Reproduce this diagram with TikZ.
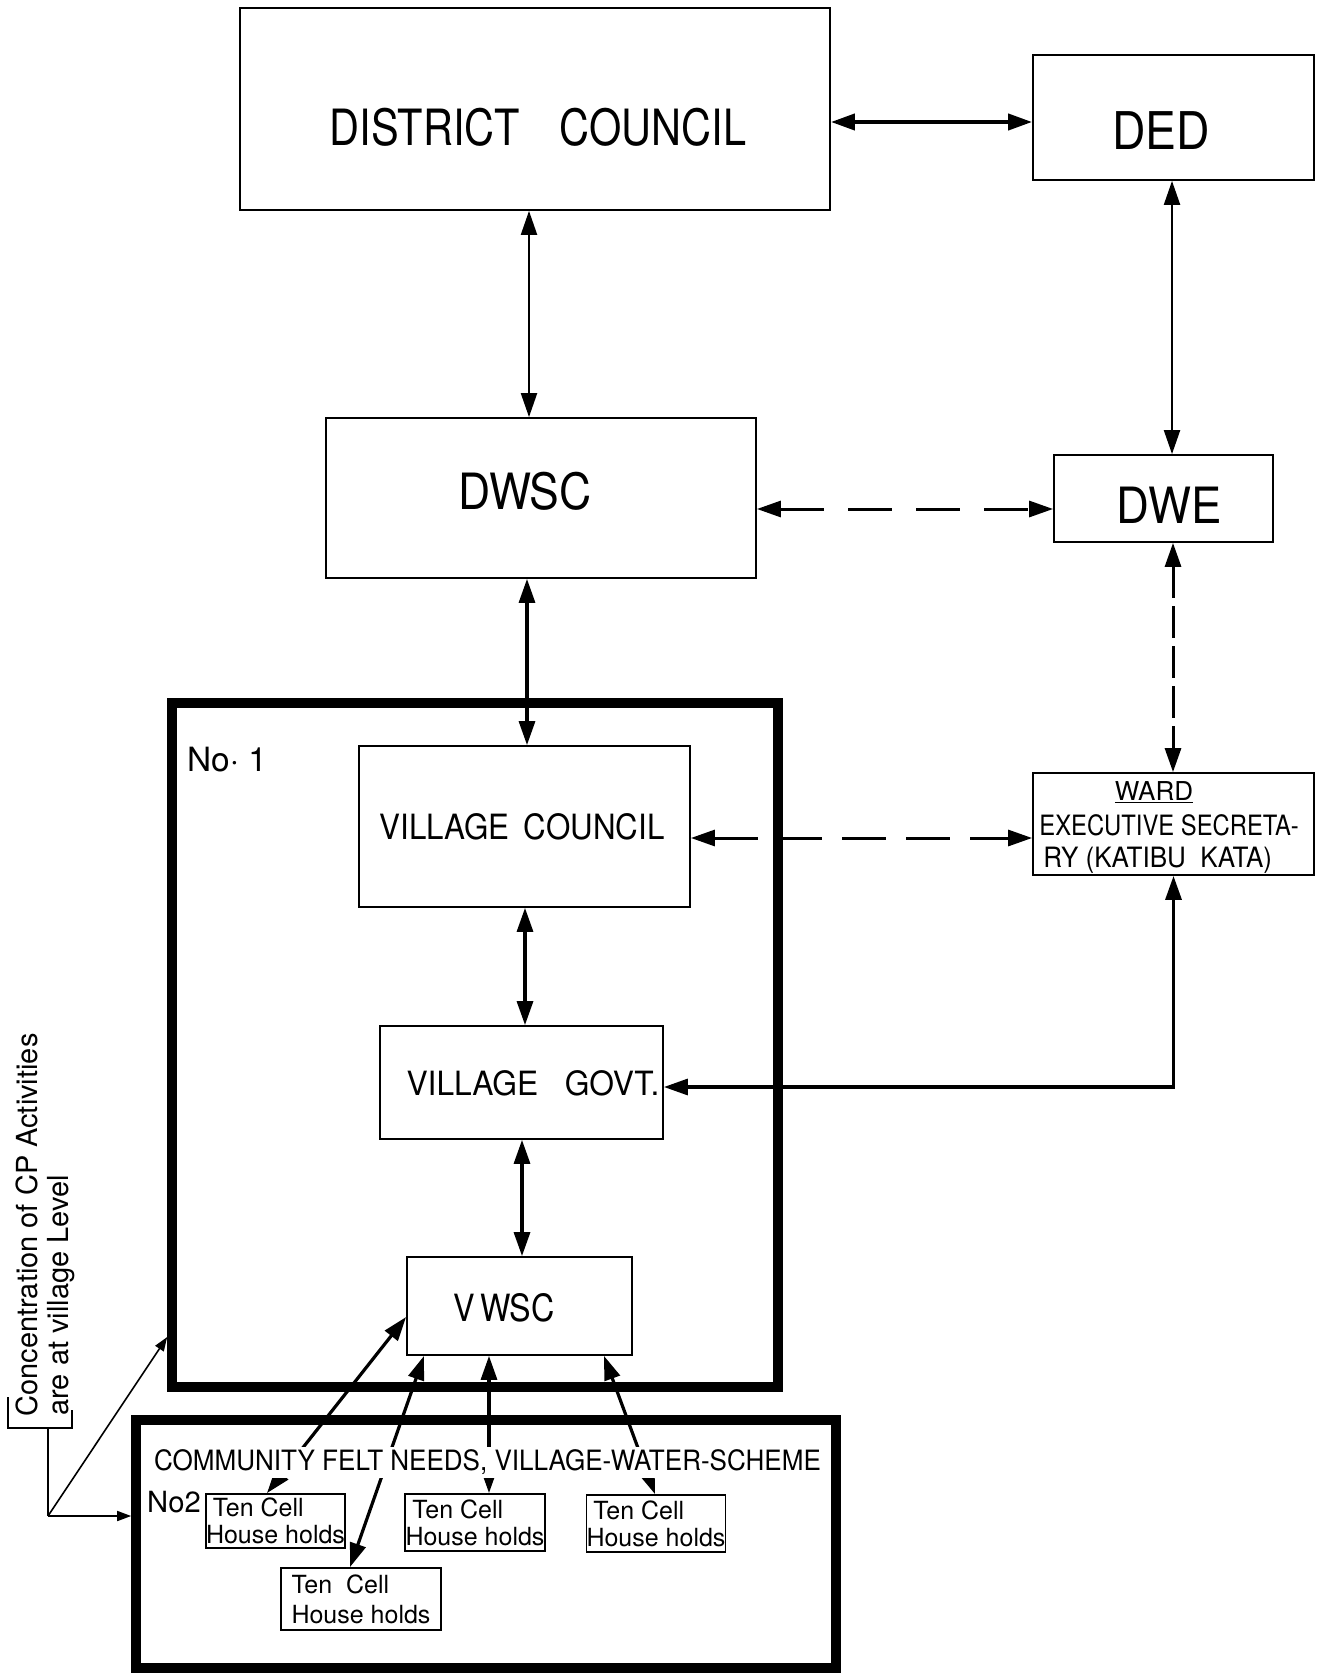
\documentclass[tikz,border=0pt]{standalone}
\usepackage{fontspec}
\usepackage{graphicx}
\setmainfont{TeX Gyre Heros}
\usetikzlibrary{arrows.meta}
\newcommand\sqz[2]{\scalebox{#1}[1]{#2}}
\newcommand\fsz[1]{\fontsize{#1}{#1}\selectfont}
\begin{document}
\begin{tikzpicture}[x=0.5pt,y=-0.5pt,
  box/.style={draw,line width=0.9pt,inner sep=0pt},
  bigbox/.style={draw,line width=4.8pt,inner sep=0pt},
  lbl/.style={inner sep=0pt},
  tcbox/.style={draw,line width=0.9pt,inner sep=0pt,align=left,font=\fontsize{12.5}{13.5}\selectfont},
  tip/.tip={Triangle[length=12pt,width=8pt]},
  stip/.tip={Triangle[length=7pt,width=5pt]},
  arr/.style={line width=1.6pt,tip-tip},
  tarr/.style={line width=1.1pt,tip-tip},
  darr/.style={line width=1.5pt,tip-tip},
  narr/.style={line width=0.8pt,-stip},
  brk/.style={line width=0.9pt}
]
\useasboundingbox (0,0) rectangle (1318,1674);

% boxes
\node[box,minimum width=295pt,minimum height=101pt] (dc) at (535,109) {};
\node[box,minimum width=140.5pt,minimum height=62.5pt] (ded) at (1173.5,117.5) {};
\node[box,minimum width=215pt,minimum height=80pt] (dwsc) at (541,498) {};
\node[box,minimum width=109.5pt,minimum height=43.5pt] (dwe) at (1163.5,498.5) {};
\node[bigbox,minimum width=303pt,minimum height=342pt] (no1) at (475,1045) {};
\node[box,minimum width=165.5pt,minimum height=80.5pt] (vc) at (524.5,826.5) {};
\node[box,minimum width=140.5pt,minimum height=51pt] (ward) at (1173.5,824) {};
\node[box,minimum width=141.5pt,minimum height=56.5pt] (vg) at (521.5,1082.5) {};
\node[box,minimum width=112.5pt,minimum height=49pt] (vwsc) at (519.5,1306) {};
\node[bigbox,minimum width=350pt,minimum height=124pt] (no2) at (486,1544) {};
\node[tcbox,minimum width=68.5pt,minimum height=27pt] (tc1) at (275.5,1521) {\ Ten Cell\\House holds};
\node[tcbox,minimum width=80pt,minimum height=31pt,font=\fontsize{12.5}{15}\selectfont] (tc2) at (361,1599) {Ten\ \ Cell\\House holds};
\node[tcbox,minimum width=70pt,minimum height=28.5pt] (tc3) at (475,1522.5) {\ Ten Cell\\House holds};
\node[tcbox,minimum width=64pt,minimum height=28.5pt] (tc4) at (656,1523.5) {\ Ten Cell\\House holds};

% texts
\node[lbl,font=\fsz{25}] (dct) at (538,127) {\sqz{0.83}{DISTRICT\hspace{24pt}COUNCIL}};
\node[lbl,font=\fsz{26}] (dedt) at (1161,131) {\sqz{0.89}{DED}};
\node[lbl,font=\fsz{25}] (dwsct) at (525,491) {\sqz{0.89}{DWSC}};
\node[lbl,font=\fsz{25}] (dwet) at (1169,505) {\sqz{0.91}{DWE}};
\node[lbl,font=\fsz{17.4}] (vct) at (522,827) {\sqz{0.9}{VILLAGE\hspace{8pt}COUNCIL}};
\node[lbl,font=\fsz{16.7}] (vgt) at (533,1083) {\sqz{0.95}{VILLAGE\hspace{14pt}GOVT.}};
\node[lbl,font=\fsz{18.75}] (vwsct) at (504,1308) {\sqz{0.86}{V\,WSC}};
\node[lbl,font=\fsz{16.7},anchor=center] (no1t) at (227,760) {No· 1};
\node[lbl,font=\fsz{13},anchor=base] (wt1) at (1154,800) {\underline{WARD}};
\node[lbl,font=\fsz{14},anchor=base west] (wt2) at (1039,835) {\sqz{0.85}{EXECUTIVE SECRETA-}};
\node[lbl,font=\fsz{14},anchor=base west] (wt3) at (1043,867) {\sqz{0.93}{RY (KATIBU\ \ KATA)}};
\node[lbl,font=\fsz{14.6}] (no2t) at (174,1502) {No2};

% connectors
\draw[arr,line width=2pt] (dc.east |- 0,122) -- (ded.west |- 0,122);
\draw[tarr] (529,0 |- dc.south) -- (529,0 |- dwsc.north);
\draw[tarr] (1172,0 |- ded.south) -- (1172,0 |- dwe.north);
\draw[darr,dash pattern=on 22pt off 12pt] (dwsc.east |- 0,509) -- (dwe.west |- 0,509);
\draw[arr] (527,0 |- dwsc.south) -- (527,0 |- vc.north);
\draw[darr,dash pattern=on 16pt off 4pt] (1173,0 |- dwe.south) -- (1173,0 |- ward.north);
\draw[darr,dash pattern=on 22pt off 10pt] (vc.east |- 0,838) -- (ward.west |- 0,838);
\draw[arr] (525,0 |- vc.south) -- (525,0 |- vg.north);
\draw[arr] (vg.east |- 0,1087) -| (ward.south);
\draw[arr] (522,0 |- vg.south) -- (522,0 |- vwsc.north);

\draw[arr] (267,0 |- tc1.north) -- (vwsc.west |- 0,1317);
\draw[arr] (350,0 |- tc2.north) -- (424,0 |- vwsc.south);
\draw[arr] (489,0 |- tc3.north) -- (489,0 |- vwsc.south);
\draw[arr] (655,0 |- tc4.north) -- (604,0 |- vwsc.south);
\node[lbl,fill=white,inner sep=1.5pt,font=\fsz{14}] (cfn) at (487.5,1462) {\sqz{0.93}{COMMUNITY FELT NEEDS, VILLAGE-WATER-SCHEME}};

% side annotation
\node[lbl,font=\fsz{14.5},rotate=90,anchor=base west] (ann1) at (37,1417) {Concentration of CP Activities};
\node[lbl,font=\fsz{14.5},rotate=90,anchor=base west] (ann2) at (68,1416) {are at village Level};
\coordinate (bj) at (48,1428);
\coordinate (bk) at (48,1516);
\draw[brk] (8,1397) -- (8,1428) -- (72,1428) -- (72,1410);
\draw[brk] (bj) -- (bk);
\draw[narr] (bk) -- (no1.west |- 0,1337);
\draw[narr] (bk) -- (no2.west |- bk);
\end{tikzpicture}
\end{document}
